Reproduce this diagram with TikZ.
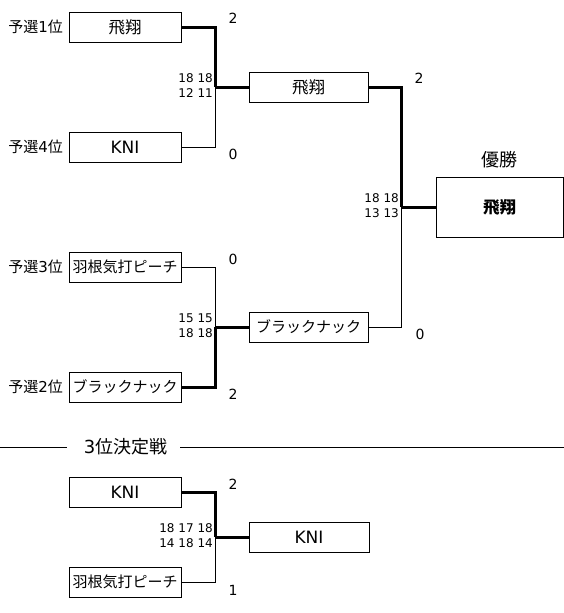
\documentclass[tikz,border=0pt]{standalone}
\usepackage{fontspec}
\setmainfont{Noto Sans CJK JP}
\newfontfamily\latf{DejaVu Sans}
\newcommand{\lt}[1]{{\latf #1}}
\newcommand{\knitxt}{{\latf\fontsize{17}{17}\selectfont KNI}}
\newcommand{\hishotxt}{{\fontsize{16.5}{16.5}\selectfont 飛翔}}
\begin{document}
\begin{tikzpicture}[x=1pt,y=-1pt,
  team/.style={draw,line width=0.9pt,minimum width=112pt,minimum height=30pt,inner sep=0pt,font=\fontsize{15}{15}\selectfont},
  seed/.style={anchor=east,inner sep=0pt,font=\fontsize{15}{15}\selectfont},
  pts/.style={inner sep=0pt,font=\fontsize{14}{14}\selectfont\latf},
  sets/.style={anchor=east,inner sep=0pt,align=right,font=\fontsize{12}{15}\selectfont\latf},
  lose/.style={line width=0.9pt},
  winl/.style={line width=3pt}]
\useasboundingbox (0,0) rectangle (564,613);
% first round
\node[team] (a1) at (125,27) {\hishotxt};
\node[team] (a4) at (125,147) {\knitxt};
\node[team] (a3) at (125,267) {羽根気打ピーチ};
\node[team] (a2) at (125,387) {ブラックナック};
\node[seed] (s1) at (63,27) {予選\lt{1}位};
\node[seed] (s4) at (63,147) {予選\lt{4}位};
\node[seed] (s3) at (63,267) {予選\lt{3}位};
\node[seed] (s2) at (63,387) {予選\lt{2}位};
% semis
\node[team,minimum width=119pt] (b1) at (308.5,87) {\hishotxt};
\node[team,minimum width=119pt] (b2) at (308.5,327) {ブラックナック};
% final
\node[team,minimum width=127pt,minimum height=60pt,font=\fontsize{16.5}{16.5}\selectfont\bfseries] (w) at (499.5,207) {飛翔};
\node[seed,anchor=center,font=\fontsize{18}{18}\selectfont] (wl) at (499,160) {優勝};
% junctions
\coordinate (j1) at (215,87);
\coordinate (j2) at (215,327);
\coordinate (jf) at (401,207);
\draw[winl] (a1.east) -| (j1);
\draw[lose] (a4.east) -| (j1);
\draw[winl] (j1) -- (b1.west);
\draw[lose] (a3.east) -| (j2);
\draw[winl] (a2.east) -| (j2);
\draw[winl] (j2) -- (b2.west);
\draw[winl] (b1.east) -| (jf);
\draw[lose] (b2.east) -| (jf);
\draw[winl] (jf) -- (w.west);
% scores
\node[pts] (p1) at (233,18) {2};
\node[pts] (p4) at (233,154) {0};
\node[pts] (p3) at (233,259) {0};
\node[pts] (p2) at (233,394) {2};
\node[pts] (pb1) at (419,78) {2};
\node[pts] (pb2) at (420,334) {0};
\node[sets] (g1) at (213,86) {18 18\\12 11};
\node[sets] (g2) at (213,326) {15 15\\18 18};
\node[sets] (gf) at (399,206) {18 18\\13 13};
% third place
\node[seed,anchor=center,font=\fontsize{18}{18}\selectfont] (t3) at (125.5,447) {\lt{3}位決定戦};
\coordinate (l0) at (0,447);
\coordinate (l1) at (67,447);
\coordinate (l2) at (180,447);
\coordinate (l3) at (564,447);
\draw[lose] (l0) -- (l1);
\draw[lose] (l2) -- (l3);
\node[team] (c1) at (125,492) {\knitxt};
\node[team] (c2) at (125,582) {羽根気打ピーチ};
\node[team,minimum width=120pt] (cw) at (309,537) {\knitxt};
\coordinate (j3) at (215,537);
\draw[winl] (c1.east) -| (j3);
\draw[lose] (c2.east) -| (j3);
\draw[winl] (j3) -- (cw.west);
\node[pts] (q1) at (233,484) {2};
\node[pts] (q2) at (233,590) {1};
\node[sets] (g3) at (213,536) {18 17 18\\14 18 14};
\end{tikzpicture}
\end{document}
